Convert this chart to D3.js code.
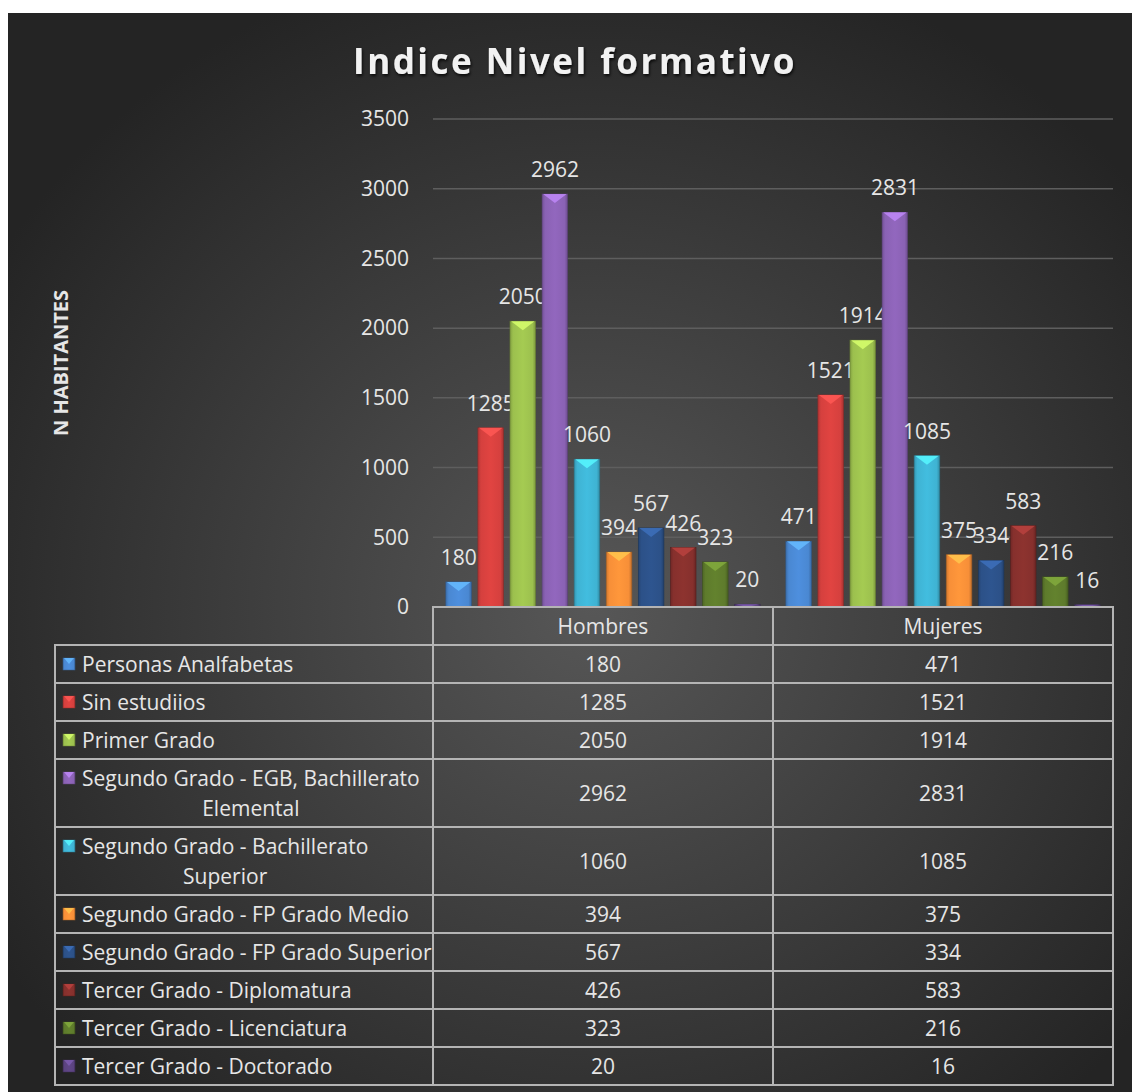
<!DOCTYPE html>
<html>
<head>
	<meta charset="utf-8">
	<title>Indice Nivel formativo</title>
	<script type="text/javascript" src="https://cdn.jsdelivr.net/npm/d3@7"></script>
	<style>
		body { margin: 0; background: #fff; }
		text { font-family: "Open Sans", sans-serif; }
	</style>
</head>
<body>
	<script type="text/javascript">
		var width = 1132,
			height = 1092;

		var categories = ['Hombres', 'Mujeres'];
		var seriesNames = ['Personas Analfabetas', 'Sin estudiios', 'Primer Grado',
			'Segundo Grado - EGB, Bachillerato Elemental', 'Segundo Grado - Bachillerato Superior',
			'Segundo Grado - FP Grado Medio', 'Segundo Grado - FP Grado Superior',
			'Tercer Grado - Diplomatura', 'Tercer Grado - Licenciatura', 'Tercer Grado - Doctorado'];
		var hombres = [180, 1285, 2050, 2962, 1060, 394, 567, 426, 323, 20];
		var mujeres = [471, 1521, 1914, 2831, 1085, 375, 334, 583, 216, 16];
		var colors = ['#4a88d2', '#d5403e', '#9cc04e', '#8a62b4', '#3fb3d3',
			'#f78f38', '#2c5188', '#86302d', '#5e7b2c', '#5b4380'];
		var yTicks = [0, 500, 1000, 1500, 2000, 2500, 3000, 3500];

		var fs = '21px';
		var svg = d3.select('body')
					.append('svg')
					.attr('width', width)
					.attr('height', height);
		var defs = svg.append('defs');

		// background
		var bg = defs.append('radialGradient').attr('id', 'bg')
			.attr('cx', '52%').attr('cy', '55%').attr('r', '62%');
		bg.append('stop').attr('offset', '0%').attr('stop-color', '#575757');
		bg.append('stop').attr('offset', '100%').attr('stop-color', '#242424');
		svg.append('rect').attr('x', 8).attr('y', 13)
			.attr('width', width - 8).attr('height', height - 13)
			.attr('fill', 'url(#bg)');

		var shadow = defs.append('filter').attr('id', 'shadow')
			.attr('x', '-10%').attr('y', '-30%').attr('width', '120%').attr('height', '160%');
		shadow.append('feDropShadow').attr('dx', 1).attr('dy', 2)
			.attr('stdDeviation', 1.5).attr('flood-color', '#000').attr('flood-opacity', 0.8);

		// bar gradients
		colors.forEach(function(c, i){
			var g = defs.append('linearGradient').attr('id', 'bar' + i)
				.attr('x1', 0).attr('x2', 1).attr('y1', 0).attr('y2', 0);
			var base = d3.color(c);
			g.append('stop').attr('offset', '0%').attr('stop-color', base.darker(0.5));
			g.append('stop').attr('offset', '12%').attr('stop-color', base);
			g.append('stop').attr('offset', '50%').attr('stop-color', base.brighter(0.15));
			g.append('stop').attr('offset', '88%').attr('stop-color', base);
			g.append('stop').attr('offset', '100%').attr('stop-color', base.darker(0.7));
		});

		var plot = {left: 433, right: 1113, top: 119, bottom: 607};

		var x0 = d3.scaleBand().domain(categories)
			.range([plot.left, plot.right]).paddingInner(0).paddingOuter(0);
		var x1 = d3.scaleBand().domain(d3.range(seriesNames.length))
			.range([0, x0.bandwidth()]).paddingInner(0.2).paddingOuter(0.4);
		var y = d3.scaleLinear().domain([0, 3500]).range([plot.bottom, plot.top]);

		// gridlines
		svg.append('g').selectAll('line').data(yTicks.slice(1)).enter().append('line')
			.attr('x1', plot.left).attr('x2', plot.right)
			.attr('y1', function(d){ return y(d); })
			.attr('y2', function(d){ return y(d); })
			.attr('stroke', '#5e5e5e').attr('stroke-width', 1.5);

		// y axis
		var yAxis = d3.axisLeft(y).tickValues(yTicks).tickFormat(d3.format('d'))
			.tickSize(0).tickPadding(24);
		var ya = svg.append('g').attr('transform', 'translate(' + plot.left + ',0)').call(yAxis);
		ya.select('.domain').remove();
		ya.selectAll('text').attr('fill', '#e6e6e6').style('font-size', fs)
			.style('font-family', '"Open Sans", sans-serif');

		svg.append('text')
			.attr('transform', 'translate(68,' + ((plot.top + plot.bottom) / 2) + ') rotate(-90)')
			.attr('text-anchor', 'middle')
			.attr('fill', '#e6e6e6')
			.style('font-size', '20px').style('font-weight', 'bold')
			.text('N HABITANTES');

		// title
		svg.append('text')
			.attr('x', 575).attr('y', 74)
			.attr('text-anchor', 'middle')
			.attr('fill', '#f2f2f2')
			.attr('filter', 'url(#shadow)')
			.style('font-size', '35px').style('font-weight', 'bold')
			.style('letter-spacing', '2.5px')
			.text('Indice Nivel formativo');

		// bars
		var data = [];
		categories.forEach(function(cat, ci){
			var vals = ci === 0 ? hombres : mujeres;
			vals.forEach(function(v, si){ data.push({cat: cat, s: si, v: v}); });
		});

		var bars = svg.append('g').selectAll('g').data(data).enter().append('g')
			.attr('transform', function(d){ return 'translate(' + (x0(d.cat) + x1(d.s)) + ',0)'; });
		var bw = x1.bandwidth();
		bars.append('rect')
			.attr('x', 0)
			.attr('y', function(d){ return y(d.v); })
			.attr('width', bw)
			.attr('height', function(d){ return y(0) - y(d.v); })
			.attr('fill', function(d){ return 'url(#bar' + d.s + ')'; })
			.attr('stroke', function(d){ return d3.color(colors[d.s]).darker(1.2); })
			.attr('stroke-width', 0.6);
		bars.append('path')
			.attr('d', function(d){
				var t = y(d.v), h = Math.min(9, y(0) - t);
				return 'M1,' + t + 'L' + (bw - 1) + ',' + t + 'L' + (bw / 2) + ',' + (t + h) + 'Z';
			})
			.attr('fill', function(d){ return d3.color(colors[d.s]).brighter(0.9); })
			.attr('opacity', 0.85);
		bars.append('text')
			.attr('x', bw / 2)
			.attr('y', function(d){ return y(d.v) - 17; })
			.attr('text-anchor', 'middle')
			.attr('fill', '#e6e6e6')
			.style('font-size', fs)
			.text(function(d){ return d.v; });

		// data table
		var tableLeft = 55, lineStep = 30, rowH = 38, labelX = 82;
		var gridColor = '#b4b4b4';
		var tbl = svg.append('g');

		tbl.append('text').attr('class', 'probe').style('font-size', fs);
		function measure(s){
			var t = tbl.select('.probe').text(s);
			return t.node().getComputedTextLength();
		}
		var rows = seriesNames.map(function(name, i){
			var words = name.split(' '), lines = [], cur = '';
			words.forEach(function(w){
				var test = cur ? cur + ' ' + w : w;
				if (measure(test) > 352 && cur) { lines.push(cur); cur = w; }
				else cur = test;
			});
			lines.push(cur);
			var maxW = d3.max(lines, measure);
			return {name: name, lines: lines, i: i, center: labelX + maxW / 2};
		});
		tbl.select('.probe').remove();

		var yPos = plot.bottom + rowH;
		rows.forEach(function(r){
			r.y0 = yPos;
			r.h = rowH + (r.lines.length - 1) * lineStep;
			yPos += r.h;
		});
		var tableBottom = yPos;

		// header
		tbl.selectAll('.hdr').data(categories).enter().append('text')
			.attr('x', function(d){ return x0(d) + x0.bandwidth() / 2; })
			.attr('y', plot.bottom + 27)
			.attr('text-anchor', 'middle')
			.attr('fill', '#e6e6e6')
			.style('font-size', fs)
			.text(function(d){ return d; });

		// borders
		tbl.append('rect').attr('x', plot.left).attr('y', plot.bottom)
			.attr('width', plot.right - plot.left).attr('height', rowH)
			.attr('fill', 'none').attr('stroke', gridColor).attr('stroke-width', 2);
		tbl.append('rect').attr('x', tableLeft).attr('y', plot.bottom + rowH)
			.attr('width', plot.right - tableLeft).attr('height', tableBottom - plot.bottom - rowH)
			.attr('fill', 'none').attr('stroke', gridColor).attr('stroke-width', 2);
		tbl.selectAll('.hl').data(rows.slice(1)).enter().append('line')
			.attr('x1', tableLeft).attr('x2', plot.right)
			.attr('y1', function(d){ return d.y0; }).attr('y2', function(d){ return d.y0; })
			.attr('stroke', gridColor).attr('stroke-width', 2);
		tbl.selectAll('.vl').data(categories.concat(['end'])).enter().append('line')
			.attr('x1', function(d, i){ return plot.left + i * x0.bandwidth(); })
			.attr('x2', function(d, i){ return plot.left + i * x0.bandwidth(); })
			.attr('y1', plot.bottom).attr('y2', tableBottom)
			.attr('stroke', gridColor).attr('stroke-width', 2);

		var rowG = tbl.selectAll('.row').data(rows).enter().append('g')
			.attr('transform', function(d){ return 'translate(0,' + d.y0 + ')'; });

		// legend markers
		var mk = 12;
		rowG.append('rect')
			.attr('x', 63).attr('y', 13)
			.attr('width', mk).attr('height', mk)
			.attr('fill', function(d){ return 'url(#bar' + d.i + ')'; })
			.attr('stroke', function(d){ return d3.color(colors[d.i]).darker(1); })
			.attr('stroke-width', 0.5);
		rowG.append('path')
			.attr('d', 'M64,13L' + (63 + mk - 1) + ',13L' + (63 + mk / 2) + ',' + (13 + mk / 2) + 'Z')
			.attr('fill', function(d){ return d3.color(colors[d.i]).brighter(0.9); })
			.attr('opacity', 0.85);

		// legend labels (wrapped lines are centred on the text block)
		rowG.each(function(d){
			var g = d3.select(this);
			g.selectAll('.ln').data(d.lines).enter().append('text')
				.attr('x', d.lines.length > 1 ? d.center : labelX)
				.attr('y', function(l, k){ return 27 + k * lineStep; })
				.attr('text-anchor', d.lines.length > 1 ? 'middle' : 'start')
				.attr('fill', '#e6e6e6').style('font-size', fs)
				.text(function(l){ return l; });
		});

		// table values
		rowG.selectAll('.val').data(function(d){
			return categories.map(function(c, ci){
				return {c: c, v: (ci === 0 ? hombres : mujeres)[d.i], h: d.h};
			});
		}).enter().append('text')
			.attr('x', function(d){ return x0(d.c) + x0.bandwidth() / 2; })
			.attr('y', function(d){ return d.h / 2 + 8; })
			.attr('text-anchor', 'middle')
			.attr('fill', '#e6e6e6')
			.style('font-size', fs)
			.text(function(d){ return d.v; });
	</script>
</body>
</html>
